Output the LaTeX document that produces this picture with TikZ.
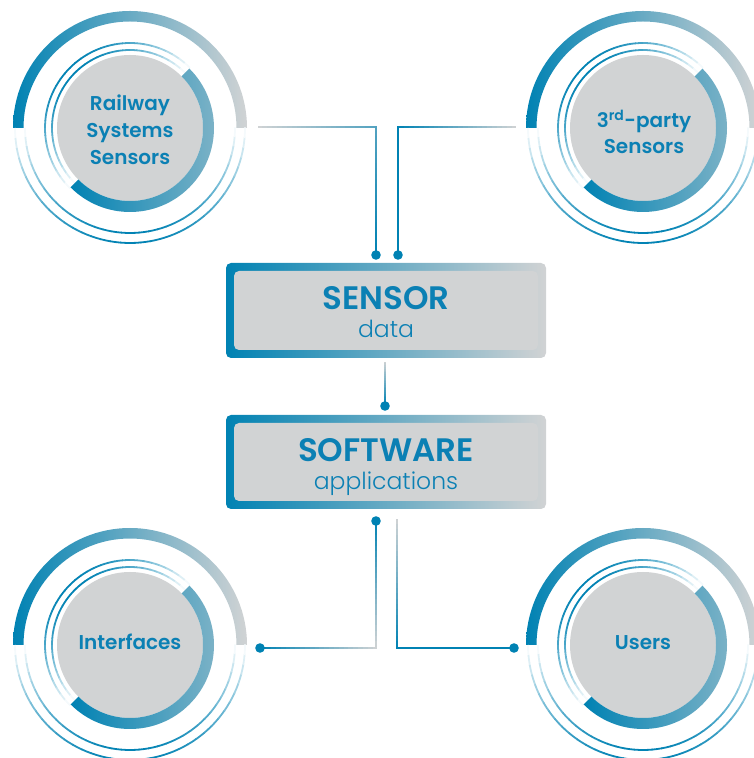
\documentclass[tikz,border=0pt]{standalone}
\usepackage{fontspec}
\setmainfont{Poppins}
\newfontfamily\popsemi{Poppins SemiBold}
\newfontfamily\poplight{Poppins Light}
\usetikzlibrary{calc}
\definecolor{cBlue}{HTML}{0082B3}
\definecolor{cGray}{HTML}{D1D3D4}
\definecolor{cText}{HTML}{0B80B4}
\colorlet{cBandR}{cBlue!38!cGray}
\colorlet{cMid}{cBlue!60!cGray}
\colorlet{cBoxMid}{cBlue!72!cGray}
\tikzset{
  thinarc/.style={line width=1.8pt},
  conn/.style={line width=2.8pt, line cap=rect},
  databox/.style={minimum width=320pt, minimum height=95pt, rounded corners=5pt, inner sep=0pt,
    left color=cBlue, middle color=cBoxMid, right color=cGray,
    path picture={\fill[cGray] ([shift={(8pt,-8pt)}]path picture bounding box.north west) rectangle ([shift={(-8pt,8pt)}]path picture bounding box.south east);}},
  titletext/.style={inner sep=0pt, text=cText, font=\popsemi\fontsize{32.5}{36}\selectfont},
  subtext/.style={inner sep=0pt, text=cText, font=\poplight\fontsize{23.5}{26}\selectfont},
  circtext/.style={inner sep=0pt, text=cText, align=center, font=\popsemi\fontsize{20}{27}\selectfont},
  dotmark/.style={fill=cBlue}
}
\newcommand\fadearc[3]{%
  \foreach \k in {0,...,35}{%
    \pgfmathsetmacro\aa{#3+\k*5}%
    \pgfmathtruncatemacro\pp{100*sin(\k*5+2.5)}%
    \draw[thinarc, cBlue!\pp!white] ($(#1)+(\aa:#2)$) arc[start angle=\aa, delta angle=5.3, radius=#2];
  }}
\newcommand\gline[4]{%
  \foreach \i in {0,...,23}{%
    \pgfmathsetmacro\ta{\i/24}%
    \pgfmathsetmacro\tb{(\i+1)/24}%
    \pgfmathtruncatemacro\pp{100*(\i+0.5)/24}%
    \draw[conn, #4!\pp!#3] ($(#1)!\ta!(#2)$) -- ($(#1)!\tb!(#2)$);
  }}
\newcommand\sensorring[1]{%
  \shade[left color=cBlue, right color=cGray] ($(#1)+(117,0)$) arc[start angle=0,end angle=180,radius=117] -- ++(10.5,0) arc[start angle=180,end angle=0,radius=106.5] -- cycle;
  \fadearc{#1}{115}{180}
  \fadearc{#1}{105}{180}
  \fadearc{#1}{85}{45}
  \fadearc{#1}{78}{45}
  \fill[cGray] (#1) circle (73);
  \shade[left color=cBlue, right color=cBandR] ($(#1)+(45:84)$) arc[start angle=45,end angle=-135,radius=84] -- ($(#1)+(-135:73)$) arc[start angle=-135,end angle=45,radius=73] -- cycle;
}
\begin{document}
\begin{tikzpicture}[x=1pt,y=1pt]
\useasboundingbox (0,0) rectangle (754,758);
\clip (0,0) rectangle (754,758);
% circle centres
\coordinate (cTL) at (130,630);
\coordinate (cTR) at (643,630);
\coordinate (cBL) at (130,113);
\coordinate (cBR) at (643,113);
\sensorring{cTL}
\sensorring{cTR}
\sensorring{cBL}
\sensorring{cBR}
% boxes
\node[databox] (sensor) at (386,447.5) {};
\node[databox, minimum height=94pt] (software) at (386,296) {};
\node[titletext, anchor=base] (sensorT) at (386,448) {SENSOR};
\node[subtext, anchor=base] (sensorS) at (386,420.3) {data};
\node[titletext, anchor=base] (softT) at (386,296.3) {SOFTWARE};
\node[subtext, anchor=base] (softS) at (386,268.7) {applications};
% connector points
\coordinate (tlA) at (259,631);
\coordinate (tlB) at (376,631);
\coordinate (tlD) at (376,503);
\coordinate (trA) at (515,631);
\coordinate (trB) at (398,631);
\coordinate (trD) at (398,503);
\coordinate (mA) at (385,395);
\coordinate (mD) at (385,352);
\coordinate (blD1) at (376,237);
\coordinate (blB) at (376,110);
\coordinate (blD2) at (260,110);
\coordinate (brA) at (397,238);
\coordinate (brB) at (397,110);
\coordinate (brD) at (514,110);
\gline{tlA}{tlB}{cGray}{cMid}
\gline{tlB}{tlD}{cMid}{cBlue}
\gline{trA}{trB}{cGray}{cBlue}
\draw[conn, cBlue] (trB) -- (trD);
\gline{mA}{mD}{cGray}{cBlue}
\gline{blD1}{blB}{cBlue}{cGray}
\gline{blB}{blD2}{cGray}{cBlue}
\gline{brA}{brB}{cGray}{cBlue}
\draw[conn, cBlue] (brB) -- (brD);
\foreach \d in {tlD,trD,mD,blD1,blD2,brD} \fill[dotmark] (\d) circle (4.8);
% circle labels
\node[circtext] (tlT) at (130,628.4) {Railway\\Systems\\Sensors};
\node[circtext] (trT) at (644,626) {3\textsuperscript{rd}-party\\[-1pt]Sensors};
\node[circtext, anchor=base] (blT) at (130,108) {Interfaces};
\node[circtext, anchor=base] (brT) at (643,108) {Users};
\end{tikzpicture}
\end{document}
